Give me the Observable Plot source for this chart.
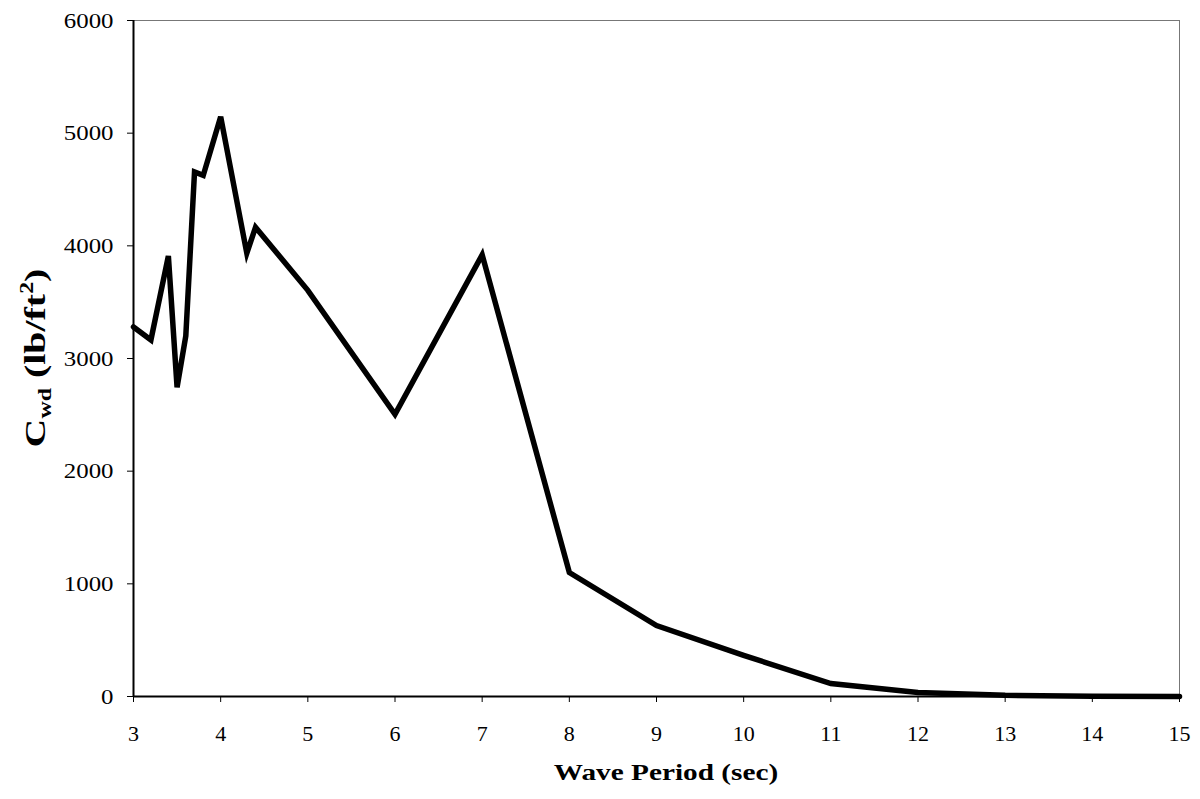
<!DOCTYPE html>
<html>
<head>
<meta charset="utf-8">
<script src="https://cdn.jsdelivr.net/npm/d3@7"></script>
<script src="https://cdn.jsdelivr.net/npm/@observablehq/plot@0.6"></script>
<style>
  html, body { margin: 0; padding: 0; background: #fff; }
  #chart svg { display: block; }
</style>
</head>
<body>
<div id="chart"></div>
<script>
// Wave period (sec) and the corresponding drag coefficient C_wd (lb/ft²)
const period = [3, 3.2, 3.4, 3.5, 3.6, 3.7, 3.8, 4, 4.3, 4.4, 5, 6, 7, 8, 9, 10, 11, 12, 13, 14, 15];
const cwd    = [3280, 3165, 3910, 2745, 3200, 4655, 4625, 5145, 3935, 4165, 3605, 2505, 3920, 1100, 630, 365, 115, 35, 10, 3, 1];

const xTicks = [3, 4, 5, 6, 7, 8, 9, 10, 11, 12, 13, 14, 15];
const yTicks = [0, 1000, 2000, 3000, 4000, 5000, 6000];

const data = period.map((p, i) => ({ period: p, cwd: cwd[i] }));

const W = 1200, H = 799;
const serif = "'Liberation Serif', 'DejaVu Serif', serif";

const chart = Plot.plot({
  width: W,
  height: H,
  marginLeft: 133,
  marginRight: 21,
  marginTop: 20,
  marginBottom: 103,
  style: { fontFamily: serif, fontSize: "22px", color: "#000", background: "#fff" },
  x: { domain: [3, 15], ticks: xTicks, label: null },
  y: { domain: [0, 6000], ticks: yTicks, label: null },
  marks: [
    Plot.frame({ stroke: "#777", strokeWidth: 1 }),
    Plot.axisX({ ticks: xTicks, tickSize: 6, tickPadding: 23, fontSize: 22, tickFormat: d => String(d), label: null }),
    Plot.axisY({ ticks: yTicks, tickSize: 6, tickPadding: 14, fontSize: 22, tickFormat: d => String(d), label: null }),
    Plot.ruleX([3], { stroke: "#000", strokeWidth: 2 }),
    Plot.ruleY([0], { stroke: "#000", strokeWidth: 2 }),
    Plot.line(data, { x: "period", y: "cwd", stroke: "#000", strokeWidth: 5.5, strokeLinejoin: "miter", strokeMiterlimit: 4 })
  ]
});

document.getElementById("chart").appendChild(chart);

const svg = d3.select(chart);

// value-axis numerals are set a little wider than the period numerals
svg.selectAll("g[aria-label='y-axis tick label'] text").each(function () {
  const len = this.getComputedTextLength();
  d3.select(this).attr("textLength", len * 1.13).attr("lengthAdjust", "spacingAndGlyphs");
});

// Axis titles with sub/superscripts
svg.append("text")
  .attr("transform", "translate(666,780) scale(1.22,1)")
  .attr("text-anchor", "middle")
  .attr("font-family", serif)
  .attr("font-weight", "bold")
  .attr("font-size", 24)
  .attr("fill", "#000")
  .text("Wave Period (sec)");

const yt = svg.append("text")
  .attr("transform", "translate(45,358) rotate(-90) scale(1.33,1)")
  .attr("text-anchor", "middle")
  .attr("font-family", serif)
  .attr("font-weight", "bold")
  .attr("font-size", 30)
  .attr("fill", "#000");
yt.append("tspan").text("C");
yt.append("tspan").attr("font-size", 18).attr("dy", 6).text("wd");
yt.append("tspan").attr("dy", -6).text(" (lb/ft");
yt.append("tspan").attr("font-size", 18).attr("dy", -12).text("2");
yt.append("tspan").attr("dy", 12).text(")");
</script>
</body>
</html>
